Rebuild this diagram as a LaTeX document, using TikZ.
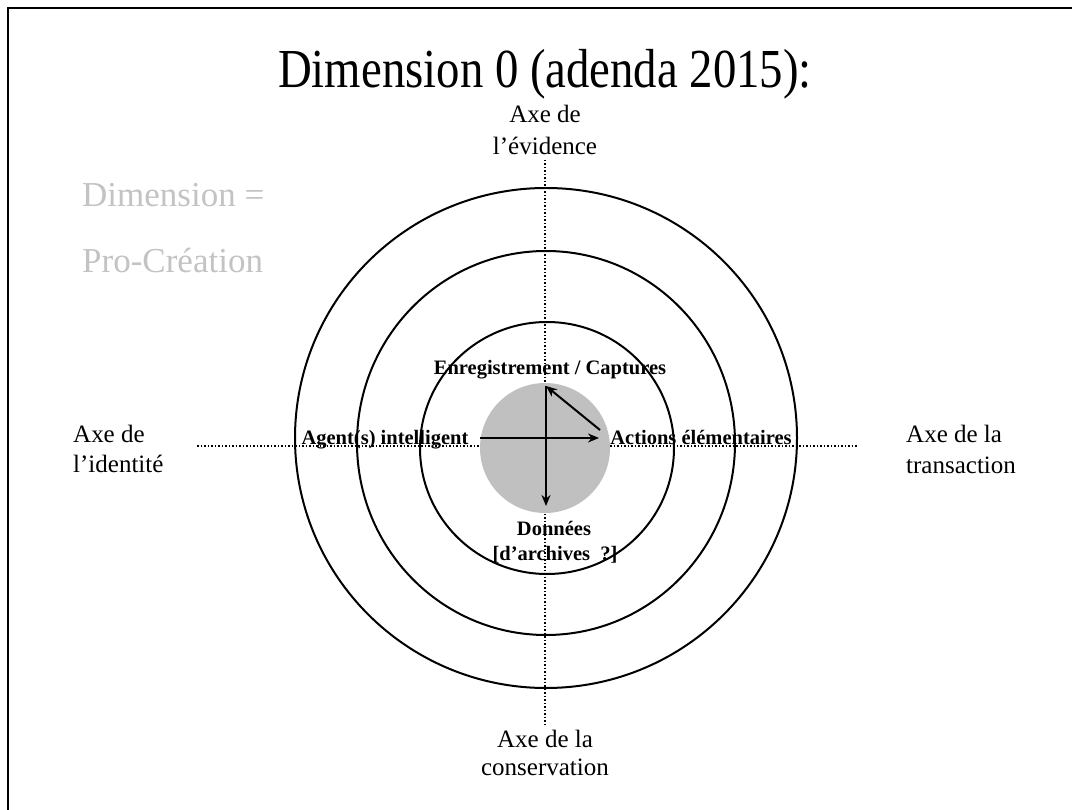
\documentclass[tikz,border=0pt]{standalone}
\usepackage{fontspec}
\setmainfont{Liberation Serif}
\usetikzlibrary{arrows.meta,shapes.geometric}
\definecolor{disk}{RGB}{192,192,192}
\definecolor{ghost}{RGB}{195,195,195}
\tikzset{
  ring/.style={draw=black, line width=2pt, ellipse, inner sep=0pt},
  axisline/.style={line width=2pt, dash pattern=on 1.5pt off 2pt, black},
  vec/.style={line width=2pt, -{Stealth[length=11pt,width=9pt]}},
  axislbl/.style={font=\fontsize{25}{30}\selectfont, inner sep=0pt, anchor=base},
  innerlbl/.style={font=\fontsize{20.5}{24}\selectfont\bfseries, inner sep=0pt, anchor=base},
  ghostlbl/.style={font=\fontsize{35}{40}\selectfont, text=ghost, inner sep=0pt, anchor=base west},
}
\begin{document}
\begin{tikzpicture}[x=1pt,y=-1pt]
\path[use as bounding box] (0,0) rectangle (1072,810);
% frame (only left and top edges visible)
\coordinate (fBL) at (7.5,810);
\coordinate (fTL) at (7.5,8.5);
\coordinate (fTR) at (1072,8.5);
\draw[line width=2pt] (fBL) -- (fTL) -- (fTR);
% title
\node[font=\fontsize{55}{60}\selectfont, inner sep=0pt, anchor=base, xscale=0.85] (title) at (545,88) {Dimension 0 (adenda 2015):};
% ghost text
\node[ghostlbl] (g1) at (82,207) {Dimension =};
\node[ghostlbl] (g2) at (82,273) {Pro-Création};
% rings
\node[ring, minimum width=502pt, minimum height=500pt] (outer) at (546,438) {};
\node[ring, minimum width=378pt, minimum height=384pt] (middle) at (546,443) {};
\node[ring, minimum width=254pt, minimum height=252pt] (inner) at (547,448) {};
% dotted axes
\coordinate (vtop) at (545,160);
\coordinate (vbot) at (545,725);
\coordinate (hl) at (197,446);
\coordinate (hr) at (858,446);
\draw[axisline] (vtop) -- (vbot);
\draw[axisline] (hl) -- (hr);
% grey disk
\node[circle, fill=disk, minimum size=130pt, inner sep=0pt] (core) at (545,448) {};
% arrows
\coordinate (aL) at (480,438);
\coordinate (aR) at (599,438);
\coordinate (aT) at (546,386);
\coordinate (aB) at (546,506);
\coordinate (aD) at (600,430);
\draw[vec] (aL) -- (aR);
\draw[vec] (aT) -- (aB);
\draw[vec] (aD) -- (aT);
% inner labels
\node[innerlbl] (enr) at (550,375) {Enregistrement / Captures};
\node[innerlbl] (agent) at (385,445) {Agent(s) intelligent};
\node[innerlbl] (act) at (701,445) {Actions élémentaires};
\node[innerlbl] (don) at (554,535) {Données};
\node[innerlbl] (arch) at (555,560) {[d’archives\ \ ?]};
% axis labels
\node[axislbl] (ev1) at (545,123) {Axe de};
\node[axislbl] (ev2) at (545,155) {l’évidence};
\node[axislbl, anchor=base west] (id1) at (73,443) {Axe de};
\node[axislbl, anchor=base west] (id2) at (73,472) {l’identité};
\node[axislbl, anchor=base west] (tr1) at (906,443) {Axe de la};
\node[axislbl, anchor=base west] (tr2) at (906,474) {transaction};
\node[axislbl] (co1) at (545,747) {Axe de la};
\node[axislbl] (co2) at (545,775) {conservation};
\end{tikzpicture}
\end{document}
